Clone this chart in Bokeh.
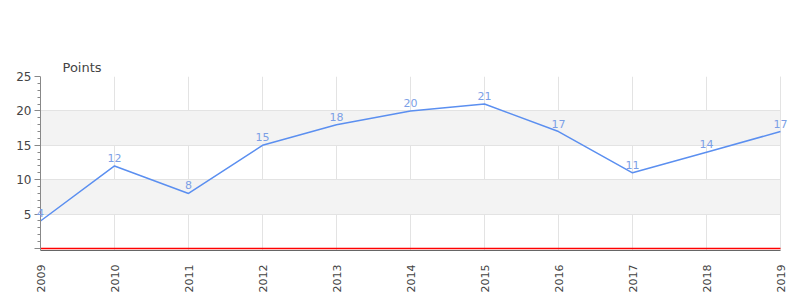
import math
from bokeh.plotting import figure
from bokeh.models import ColumnDataSource, FixedTicker, Range1d, Span, Title, Label, BoxAnnotation
from bokeh.embed import file_html
from bokeh.resources import INLINE

years = [2009, 2010, 2011, 2012, 2013, 2014, 2015, 2016, 2017, 2018, 2019]
points = [4, 12, 8, 15, 18, 20, 21, 17, 11, 14, 17]
year_labels = [str(y) for y in years]
y_ticks = [0, 5, 10, 15, 20, 25]
y_minor = [v for v in range(0, 26) if v % 5 != 0]

FONT = "DejaVu Sans"
LINE_COLOR = "#5b8ff0"
LABEL_COLOR = "#7c9fe6"
GRID = "#e3e3e3"
AXIS = "#888888"

src = ColumnDataSource(dict(x=years, y=points))

# the frame reaches 10px left and 20px right of the plotted years so that
# value labels at the ends are not clipped; those strips are blanked below
span_years = years[-1] - years[0]
px_per_year = 740 / span_years
x_start = years[0] - 10 / px_per_year
x_end = years[-1] + 20 / px_per_year

p = figure(width=800, height=300, output_backend="svg", toolbar_location=None,
           x_range=Range1d(x_start, x_end), y_range=Range1d(-0.29, 25),
           min_border_left=30, min_border_right=0, min_border_top=76,
           min_border_bottom=50)
p.frame_width = 770
p.frame_height = 174
p.background_fill_color = "white"
p.border_fill_color = "white"
p.outline_line_color = None

title = Title(text="Points", align="left", offset=32, text_font=FONT,
              text_font_size="13px", text_font_style="normal", text_color="#444444",
              standoff=4)
p.add_layout(title, "above")

# grids
p.ygrid.ticker = FixedTicker(ticks=y_ticks[1:])
p.ygrid.grid_line_color = GRID
p.ygrid.band_fill_color = "#f3f3f3"
p.ygrid.band_fill_alpha = 1.0
p.xgrid.ticker = FixedTicker(ticks=years)
p.xgrid.grid_line_color = GRID

# y axis (ticks shifted so they end on the first year's position)
p.yaxis.ticker = FixedTicker(ticks=y_ticks, minor_ticks=y_minor)
p.yaxis.major_label_overrides = {0: ""}
p.yaxis.axis_line_color = None
p.yaxis.major_tick_line_color = AXIS
p.yaxis.minor_tick_line_color = AXIS
p.yaxis.major_tick_out = -4
p.yaxis.major_tick_in = 10
p.yaxis.minor_tick_out = -7
p.yaxis.minor_tick_in = 10
p.yaxis.major_label_text_font = FONT
p.yaxis.major_label_text_font_size = "12px"
p.yaxis.major_label_text_color = "#444444"
p.yaxis.major_label_standoff = 3

# x axis
p.xaxis.ticker = FixedTicker(ticks=years)
p.xaxis.bounds = (years[0], years[-1])
p.xaxis.major_label_overrides = {y: l for y, l in zip(years, year_labels)}
p.xaxis.major_label_orientation = math.pi / 2
p.xaxis.axis_line_color = "#666666"
p.xaxis.axis_line_width = 1
p.xaxis.major_tick_line_color = None
p.xaxis.minor_tick_line_color = None
p.xaxis.major_label_text_font = FONT
p.xaxis.major_label_text_font_size = "11px"
p.xaxis.major_label_text_color = "#444444"
p.xaxis.major_label_standoff = 8

# blank out the extra frame strips outside the plotted years (below the axis ticks)
p.add_layout(BoxAnnotation(left=years[-1], fill_color="white", fill_alpha=1.0,
                           line_color=None, level="underlay"))
p.add_layout(BoxAnnotation(right=years[0], fill_color="white", fill_alpha=1.0,
                           line_color=None, level="underlay"))
p.add_layout(Span(location=years[-1], dimension="height", line_color=GRID, line_width=1,
                  level="underlay"))
p.add_layout(Span(location=years[0], dimension="height", line_color=AXIS, line_width=1))

# red baseline at zero
p.segment(x0=[years[0]], y0=[0], x1=[years[-1]], y1=[0], line_color="#ff0000", line_width=1.5)

p.line("x", "y", source=src, line_color=LINE_COLOR, line_width=1.5)
for xv, yv in zip(years, points):
    p.add_layout(Label(x=xv, y=yv, text=str(yv), text_font=FONT, text_font_size="11px",
                       text_color=LABEL_COLOR, text_align="center",
                       text_baseline="bottom", y_offset=4))

open("out.html", "w").write(file_html(p, INLINE))
